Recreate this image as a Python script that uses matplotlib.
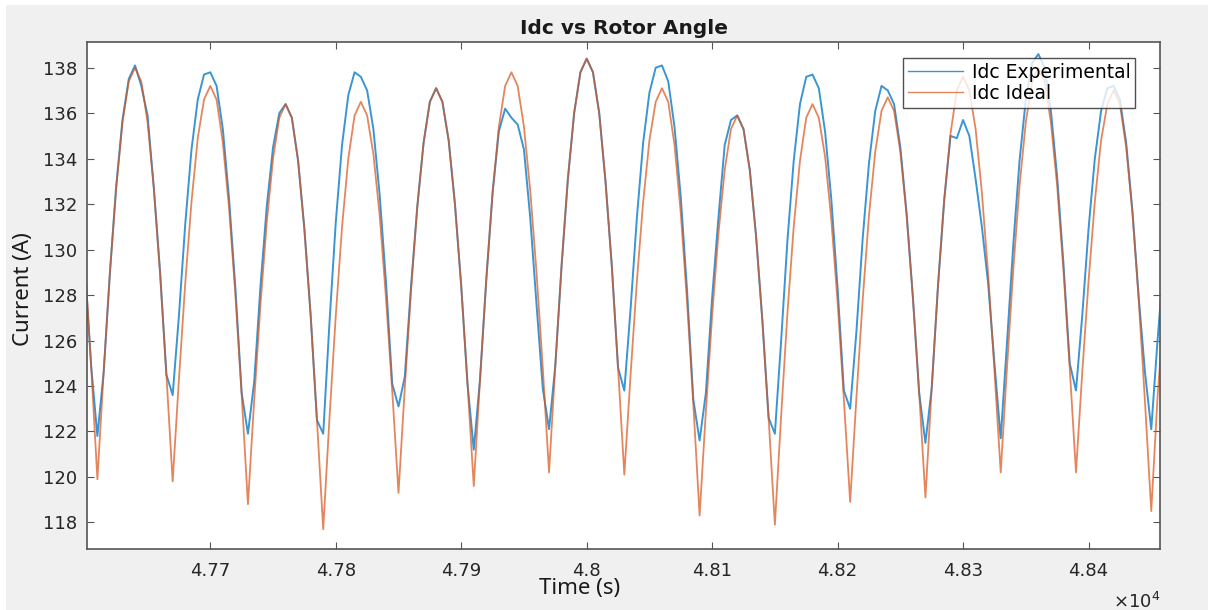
import matplotlib.pyplot as plt
import numpy as np
from matplotlib.patches import Rectangle

# -----------------------------
# Measured DC-link current, sampled every 5 s
# -----------------------------
t_start, t_stop, t_step = 47600, 48460, 5

idc_ideal = [
    129.5, 124.9,
    119.9, 124.6, 129.0, 132.7, 135.6, 137.4, 138.0, 137.4, 135.6, 132.7, 128.9, 124.5,
    119.8, 124.3, 128.5, 132.1, 134.9, 136.6, 137.2, 136.6, 134.7, 131.8, 128.0, 123.6,
    118.8, 123.4, 127.6, 131.2, 134.0, 135.8, 136.4, 135.8, 133.9, 130.9, 127.1, 122.5,
    117.7, 122.6, 127.1, 131.0, 134.0, 135.9, 136.5, 135.9, 134.2, 131.5, 127.9, 123.8,
    119.3, 123.9, 128.2, 131.9, 134.7, 136.5, 137.1, 136.5, 134.8, 132.0, 128.4, 124.1,
    119.6, 124.3, 128.7, 132.5, 135.4, 137.2, 137.8, 137.2, 135.4, 132.6, 129.0, 124.8,
    120.2, 124.9, 129.3, 133.1, 136.0, 137.8, 138.4, 137.8, 136.0, 133.0, 129.3, 124.8,
    120.1, 124.5, 128.6, 132.1, 134.8, 136.5, 137.1, 136.5, 134.6, 131.6, 127.7, 123.2,
    118.3, 122.9, 127.1, 130.7, 133.5, 135.3, 135.9, 135.3, 133.5, 130.6, 126.9, 122.6,
    117.9, 122.7, 127.2, 131.0, 133.9, 135.8, 136.4, 135.8, 134.1, 131.3, 127.7, 123.4,
    118.9, 123.5, 127.8, 131.5, 134.3, 136.1, 136.7, 136.1, 134.3, 131.5, 127.9, 123.7,
    119.1, 123.9, 128.4, 132.2, 135.1, 137.0, 137.6, 137.0, 135.3, 132.5, 128.9, 124.7,
    120.2, 124.8, 129.1, 132.8, 135.6, 137.4, 138.0, 137.4, 135.6, 132.8, 129.1, 124.8,
    120.2, 124.6, 128.6, 132.1, 134.8, 136.4, 137.0, 136.4, 134.5, 131.6, 127.8, 123.3,
    118.5, 123.5, 127.3,
]

idc_experimental = [
    129.3, 124.9,
    121.8, 124.6, 129.0, 132.8, 135.7, 137.5, 138.1, 137.2, 135.9, 132.7, 129.0, 124.5,
    123.6, 127.1, 131.1, 134.4, 136.6, 137.7, 137.8, 137.2, 135.3, 132.2, 128.3, 123.7,
    121.9, 124.2, 128.4, 131.9, 134.5, 136.0, 136.4, 135.8, 133.9, 130.9, 127.1, 122.5,
    121.9, 126.8, 131.2, 134.6, 136.8, 137.8, 137.6, 137.0, 135.3, 132.4, 128.6, 124.1,
    123.1, 124.4, 128.4, 131.9, 134.7, 136.5, 137.1, 136.5, 134.8, 132.0, 128.4, 124.1,
    121.2, 124.3, 128.7, 132.5, 135.2, 136.2, 135.8, 135.5, 134.4, 131.4, 127.6, 123.9,
    122.1, 124.9, 129.3, 133.1, 136.0, 137.8, 138.4, 137.8, 136.0, 133.0, 129.3, 124.8,
    123.8, 127.4, 131.4, 134.7, 136.9, 138.0, 138.1, 137.4, 135.4, 132.3, 128.2, 123.4,
    121.6, 123.7, 127.9, 131.4, 134.6, 135.7, 135.9, 135.3, 133.5, 130.6, 126.9, 122.6,
    121.9, 126.0, 130.4, 133.9, 136.4, 137.6, 137.7, 137.1, 135.2, 132.2, 128.3, 123.8,
    123.0, 126.4, 130.5, 133.8, 136.1, 137.2, 137.0, 136.4, 134.5, 131.6, 127.9, 123.7,
    121.5, 123.9, 128.4, 132.2, 135.0, 134.9, 135.7, 135.0, 133.1, 131.0, 128.5, 125.0,
    121.7, 125.9, 130.2, 133.9, 136.6, 138.2, 138.6, 138.0, 136.1, 133.2, 129.4, 125.0,
    123.8, 127.1, 130.9, 134.0, 136.1, 137.1, 137.2, 136.6, 134.7, 131.7, 127.9, 124.6,
    122.1, 126.0, 129.5,
]

x_ticks = [47700, 47800, 47900, 48000, 48100, 48200, 48300, 48400]
x_tick_labels = ["4.77", "4.78", "4.79", "4.8", "4.81", "4.82", "4.83", "4.84"]
y_ticks = [118, 120, 122, 124, 126, 128, 130, 132, 134, 136, 138]

time = np.arange(t_start, t_stop + 1, t_step)

# -----------------------------
# Figure
# -----------------------------
fig = plt.figure(figsize=(12.08, 6.10), dpi=100, facecolor="#f0f0f0")
# thin white strip along the top and left edges
fig.patches.append(Rectangle((0, 1 - 5 / 610), 1, 5 / 610, transform=fig.transFigure,
                             facecolor="white", edgecolor="none", zorder=-1))
fig.patches.append(Rectangle((0, 0), 6 / 1208, 1, transform=fig.transFigure,
                             facecolor="white", edgecolor="none", zorder=-1))

ax = fig.add_axes([0.0720, 0.1000, 0.8883, 0.8311])
ax.set_facecolor("white")

ax.plot(time, idc_experimental, color="#3a95d4", linewidth=1.4,
        solid_joinstyle="round", label="Idc Experimental")
ax.plot(time, idc_ideal, color="#d95319", linewidth=1.3, alpha=0.7,
        solid_joinstyle="round", label="Idc Ideal")

ax.set_xlim(47601.7, 48457)
ax.set_ylim(116.83, 139.13)
ax.set_xticks(x_ticks)
ax.set_xticklabels(x_tick_labels)
ax.set_yticks(y_ticks)

ax.tick_params(direction="in", length=5, width=0.8, color="#555555",
               top=True, right=True, labelsize=13, labelcolor="#262626")
ax.tick_params(axis="y", pad=7)
ax.tick_params(axis="x", pad=9)
for side in ax.spines.values():
    side.set_color("#555555")
    side.set_linewidth(1.2)

ax.set_title("Idc vs Rotor Angle", fontsize=14.5, fontweight="bold", color="#1a1a1a", pad=6)
ax.set_xlabel("Time (s)", fontsize=16, family="Noto Sans", color="#1a1a1a")
ax.xaxis.set_label_coords(0.459, -0.058)
ax.set_ylabel("Current (A)", fontsize=16, family="Noto Sans", color="#1a1a1a")
ax.yaxis.set_label_coords(-0.049, 0.513)

ax.annotate(r"$\times10^{4}$", xy=(1.0, -0.085), xycoords="axes fraction",
            ha="right", va="top", fontsize=13, color="#262626")

leg = ax.legend(loc="upper right", bbox_to_anchor=(0.977, 0.968), fontsize=13.5,
                frameon=True, fancybox=False, handlelength=2.9, labelspacing=0.1,
                borderpad=0.25, handletextpad=0.5, borderaxespad=0)
leg.get_frame().set_edgecolor("#262626")
leg.get_frame().set_linewidth(1.0)
for line in leg.get_lines():
    line.set_linewidth(1.0)

fig.savefig("out.png", dpi=100, facecolor=fig.get_facecolor())
